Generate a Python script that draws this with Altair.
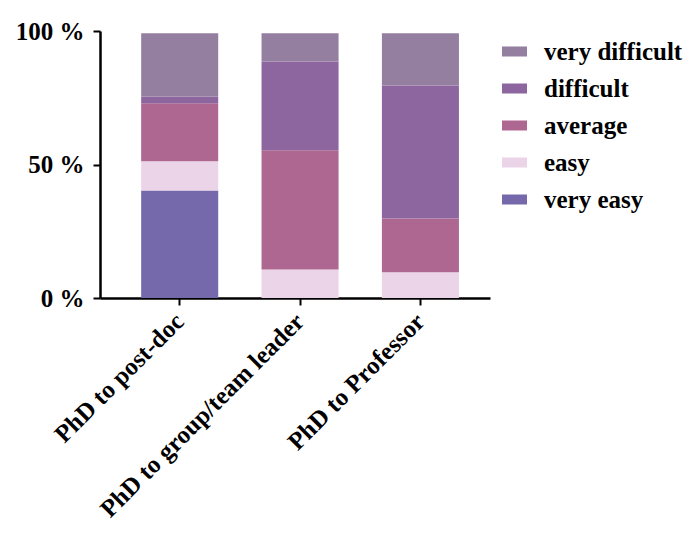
import altair as alt
import pandas as pd

groups = ["PhD to post-doc", "PhD to group/team leader", "PhD to Professor"]
levels = ["very difficult", "difficult", "average", "easy", "very easy"]
colors = ["#947FA0", "#8D66A0", "#AD6791", "#EBD4E8", "#7569AB"]

very_easy = [40.3, 0.0, 0.0]
easy = [10.9, 10.7, 9.6]
average = [21.7, 44.6, 20.2]
difficult = [2.6, 33.3, 49.8]
very_difficult = [23.7, 10.6, 19.6]

series = {
    "very easy": very_easy,
    "easy": easy,
    "average": average,
    "difficult": difficult,
    "very difficult": very_difficult,
}
stack_order = ["very easy", "easy", "average", "difficult", "very difficult"]

rows = []
for lvl in stack_order:
    for g, v in zip(groups, series[lvl]):
        rows.append({"group": g, "level": lvl, "value": v, "ord": stack_order.index(lvl)})
df = pd.DataFrame(rows)

FONT = "Liberation Serif"
FS = 25

chart = alt.Chart(df).mark_bar().encode(
    x=alt.X("group:N", sort=groups, title=None,
            scale=alt.Scale(paddingInner=0.36, paddingOuter=0.3, align=0.57),
            axis=alt.Axis(labelAngle=-45, labelAlign="right", labelBaseline="middle",
                          labelFont=FONT, labelFontSize=FS, labelFontWeight="bold",
                          labelColor="black", labelPadding=12, tickSize=7, tickWidth=2,
                          tickColor="black", domainColor="black", domainWidth=2.5,
                          labelLimit=500)),
    y=alt.Y("value:Q", stack="zero", title=None,
            scale=alt.Scale(domain=[0, 100], nice=False),
            axis=alt.Axis(values=[0, 50, 100], labelExpr="datum.value + ' %'",
                          labelFont=FONT, labelFontSize=FS, labelFontWeight="bold",
                          labelColor="black", labelPadding=9, tickSize=7, tickWidth=2,
                          tickColor="black", domainColor="black", domainWidth=2.5,
                          grid=False)),
    color=alt.Color("level:N", title=None,
                    scale=alt.Scale(domain=levels, range=colors),
                    legend=alt.Legend(orient="none", legendX=402, legendY=8,
                                      symbolType="M-1,-0.4L1,-0.4L1,0.4L-1,0.4Z",
                                      symbolSize=625, symbolStrokeWidth=0,
                                      labelFont=FONT, labelFontSize=FS, labelFontWeight="bold",
                                      labelColor="black", labelOffset=17, rowPadding=11,
                                      labelLimit=300)),
    order=alt.Order("ord:Q", sort="ascending"),
).properties(
    width=390, height=267,
    padding={"left": 92, "top": 23, "right": 194, "bottom": 226},
    autosize=alt.AutoSizeParams(type="none"),
).configure(font=FONT).configure_view(stroke=None)

chart.save("out.html", embed_options={"renderer": "svg", "actions": False})
